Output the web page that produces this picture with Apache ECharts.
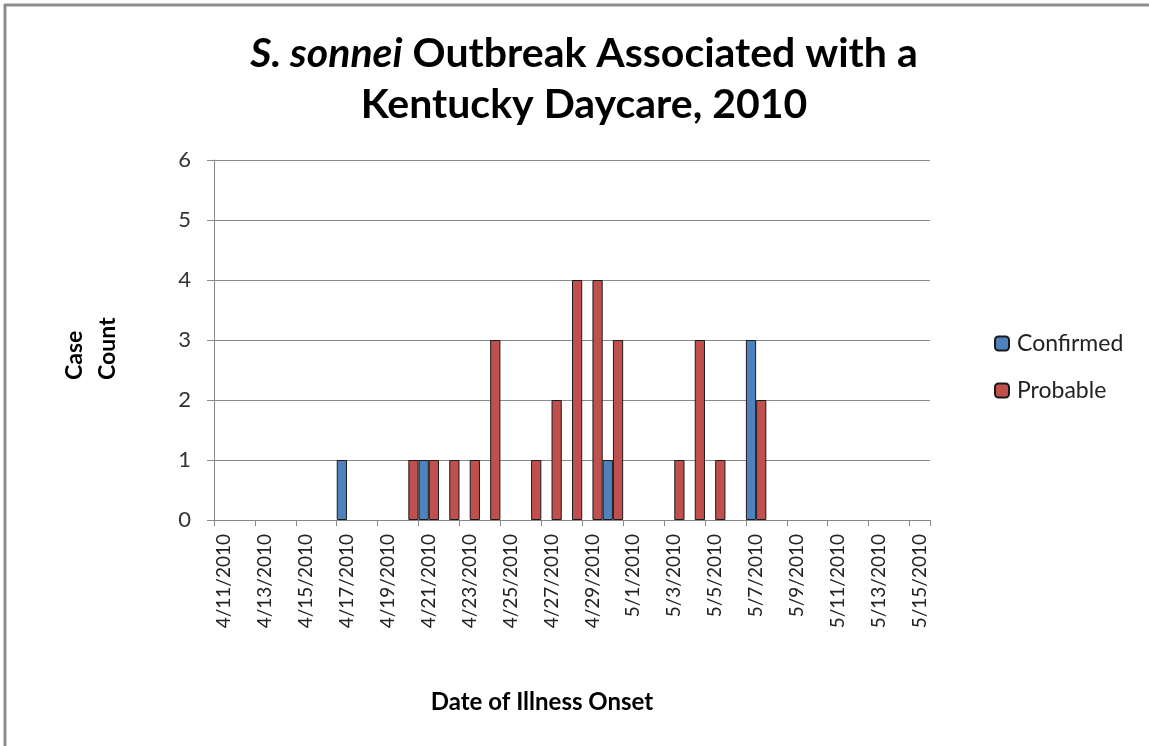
<!DOCTYPE html>
<html>
<head>
<meta charset="utf-8">
<script src="https://cdn.jsdelivr.net/npm/echarts@6/dist/echarts.min.js"></script>
<style>
html,body{margin:0;padding:0;background:#fff;}
#chart{width:1149px;height:746px;}
</style>
</head>
<body>
<div id="chart"></div>
<script>
var dates = ['4/11/2010','4/12/2010','4/13/2010','4/14/2010','4/15/2010','4/16/2010','4/17/2010','4/18/2010','4/19/2010','4/20/2010',
  '4/21/2010','4/22/2010','4/23/2010','4/24/2010','4/25/2010','4/26/2010','4/27/2010','4/28/2010','4/29/2010','4/30/2010',
  '5/1/2010','5/2/2010','5/3/2010','5/4/2010','5/5/2010','5/6/2010','5/7/2010','5/8/2010','5/9/2010','5/10/2010',
  '5/11/2010','5/12/2010','5/13/2010','5/14/2010','5/15/2010'];
var confirmed = [0,0,0,0,0,0,1,0,0,0, 1,0,0,0,0,0,0,0,0,1, 0,0,0,0,0,0,3,0,0,0, 0,0,0,0,0];
var probable  = [0,0,0,0,0,0,0,0,0,1, 1,1,1,3,0,1,2,4,4,3, 0,0,1,3,1,0,2,0,0,0, 0,0,0,0,0];
var yTicks = [0,1,2,3,4,5,6];
var seriesNames = ['Confirmed','Probable'];

var FONT = 'Lato, "Open Sans", sans-serif';
var chart = echarts.init(document.getElementById('chart'), null, {renderer:'canvas'});
function nz(arr){ return arr.map(function(v){ return v === 0 ? '-' : v; }); }

chart.setOption({
  animation: false,
  backgroundColor: '#ffffff',
  title: {
    text: '{i|S. sonnei} Outbreak Associated with a\nKentucky Daycare, 2010',
    left: 579,
    textAlign: 'center',
    top: 23,
    textStyle: {
      fontFamily: FONT, fontWeight: 'bold', fontSize: 41, color: '#000', lineHeight: 51,
      rich: { i: { fontFamily: FONT, fontWeight: 'bold', fontStyle: 'italic', fontSize: 41, color: '#000', lineHeight: 51 } }
    }
  },
  legend: {
    orient: 'vertical',
    left: 989,
    top: 327,
    itemWidth: 14,
    itemHeight: 14,
    itemGap: 24,
    data: seriesNames,
    textStyle: { fontFamily: FONT, fontSize: 23, color: '#222', padding: [0,0,0,3] }
  },
  grid: { left: 214, right: 219, top: 160, bottom: 226, containLabel: false },
  xAxis: {
    type: 'category',
    data: dates,
    boundaryGap: true,
    axisLine: { lineStyle: { color: '#888', width: 1 } },
    axisTick: { show: true, interval: 1, length: 6, lineStyle: { color: '#888' } },
    axisLabel: { interval: 1, rotate: 90, fontFamily: FONT, fontSize: 19, color: '#222', margin: 14 },
    splitLine: { show: false }
  },
  yAxis: {
    type: 'value',
    min: yTicks[0],
    max: yTicks[yTicks.length-1],
    interval: 1,
    axisLine: { show: true, lineStyle: { color: '#888', width: 1 } },
    axisTick: { show: true, length: 7, lineStyle: { color: '#888' } },
    axisLabel: { fontFamily: FONT, fontSize: 22, color: '#333', margin: 23 },
    splitLine: { show: true, lineStyle: { color: '#8a8a8a', width: 1 } }
  },
  series: [
    { name: seriesNames[0], type: 'bar', data: nz(confirmed), barGap: '0%', barCategoryGap: '0%',
      itemStyle: { color: '#4F81BD', borderColor: '#1a1a1a', borderWidth: 1 } },
    { name: seriesNames[1], type: 'bar', data: nz(probable), barGap: '0%', barCategoryGap: '0%',
      itemStyle: { color: '#C0504D', borderColor: '#1a1a1a', borderWidth: 1 } }
  ],
  graphic: [
    { type: 'line', shape: { x1: 4, y1: 5, x2: 1149, y2: 5 }, style: { stroke: '#8c8c8c', lineWidth: 3 } },
    { type: 'line', shape: { x1: 5, y1: 4, x2: 5, y2: 746 }, style: { stroke: '#8c8c8c', lineWidth: 3 } },
    { type: 'text', x: 91, y: 380, rotation: Math.PI/2,
      style: { text: 'Case\nCount', font: 'bold 23px ' + FONT, fill: '#000', textAlign: 'left', textVerticalAlign: 'middle', lineHeight: 33 } },
    { type: 'text', x: 542, y: 702,
      style: { text: 'Date of Illness Onset', font: 'bold 24px ' + FONT, fill: '#000', textAlign: 'center', textVerticalAlign: 'middle' } }
  ]
});
</script>
</body>
</html>
